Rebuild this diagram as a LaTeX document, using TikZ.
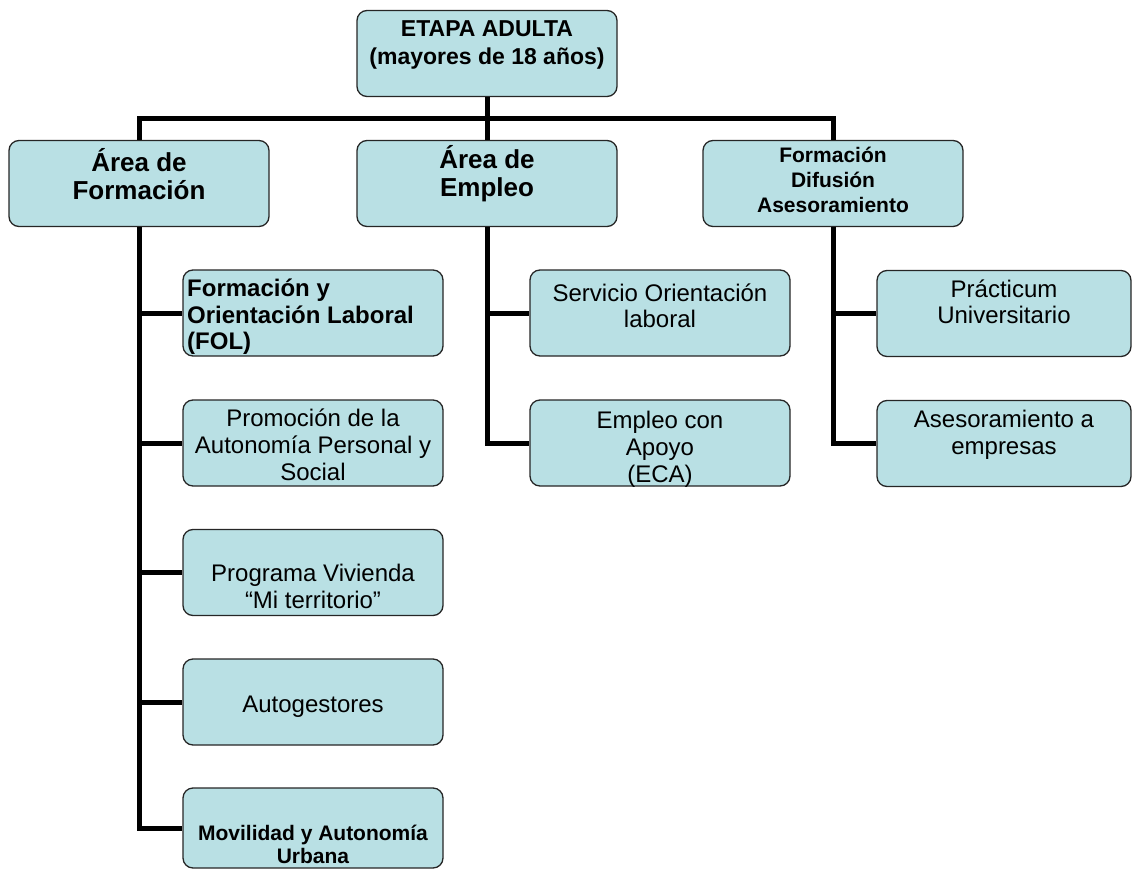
\documentclass[tikz,border=0pt]{standalone}
\usepackage{fontspec}
\setmainfont{Liberation Sans}
\definecolor{celeste}{RGB}{185,224,228}
\tikzset{
  caja/.style={draw=black!85, line width=1.3pt, fill=celeste, rounded corners=10pt,
    minimum width=260pt, minimum height=86pt, inner sep=0pt},
  texto/.style={align=center, inner sep=0pt},
  rama/.style={line width=5pt},
}
\newcommand{\tam}[2]{\fontsize{#1}{#2}\selectfont}
\begin{document}
\begin{tikzpicture}[x=1pt,y=-1pt]
\useasboundingbox (0,0) rectangle (1133,870);
% cajas
\node[caja] (raiz) at (487,53.5) {};
\node[caja] (formacion) at (139,183.5) {};
\node[caja] (empleo) at (487,183.5) {};
\node[caja] (fda) at (833,183.5) {};
\node[caja] (fol) at (313,313) {};
\node[caja] (promo) at (313,443) {};
\node[caja] (vivienda) at (313,572.5) {};
\node[caja] (autog) at (313,702) {};
\node[caja, minimum height=80pt] (movil) at (313,828) {};
\node[caja] (servicio) at (660,313) {};
\node[caja] (eca) at (660,443) {};
\node[caja, minimum width=254pt] (practicum) at (1004,313.5) {};
\node[caja, minimum width=254pt] (asesor) at (1004,443.5) {};
% conectores
\coordinate (bus) at (487,118);
\draw[rama] (raiz.south) -- (empleo.north);
\draw[rama] (formacion.north) |- (bus) -| (fda.north);
\foreach \h in {fol,promo,vivienda,autog,movil}
  \draw[rama] (formacion.south) |- (\h.west);
\foreach \h in {servicio,eca}
  \draw[rama] (empleo.south) |- (\h.west);
\foreach \h in {practicum,asesor}
  \draw[rama] (fda.south) |- (\h.west);
% textos
\node[texto, font=\bfseries\tam{23}{28}] (t-raiz) at (487,45) {ETAPA ADULTA\\(mayores de 18 años)};
\node[texto, font=\bfseries\tam{26}{28}] (t-formacion) at (139,174) {Área de\\Formación};
\node[texto, font=\bfseries\tam{26}{28}] (t-empleo) at (487,174) {Área de\\Empleo};
\node[texto, font=\bfseries\tam{21}{25}] (t-fda) at (833,180) {Formación\\Difusión\\Asesoramiento};
\node[texto, align=left, anchor=west, font=\bfseries\tam{24}{26.5}] (t-fol) at (187,317) {Formación y\\Orientación Laboral\\(FOL)};
\node[texto, font=\tam{24}{27}] (t-promo) at (313,445) {Promoción de la\\Autonomía Personal y\\Social};
\node[texto, font=\tam{24}{27}] (t-vivienda) at (313,586) {Programa Vivienda\\“Mi territorio”};
\node[texto, font=\tam{24}{27}] (t-autog) at (313,707) {Autogestores};
\node[texto, font=\bfseries\tam{21}{23}] (t-movil) at (313,844) {Movilidad y Autonomía\\Urbana};
\node[texto, font=\tam{24}{26}] (t-servicio) at (660,306) {Servicio Orientación\\laboral};
\node[texto, font=\tam{24}{27}] (t-eca) at (660,449) {Empleo con\\Apoyo\\(ECA)};
\node[texto, font=\tam{24}{26}] (t-practicum) at (1004,302) {Prácticum\\Universitario};
\node[texto, font=\tam{24}{27}] (t-asesor) at (1004,435) {Asesoramiento a\\empresas};
\end{tikzpicture}
\end{document}
